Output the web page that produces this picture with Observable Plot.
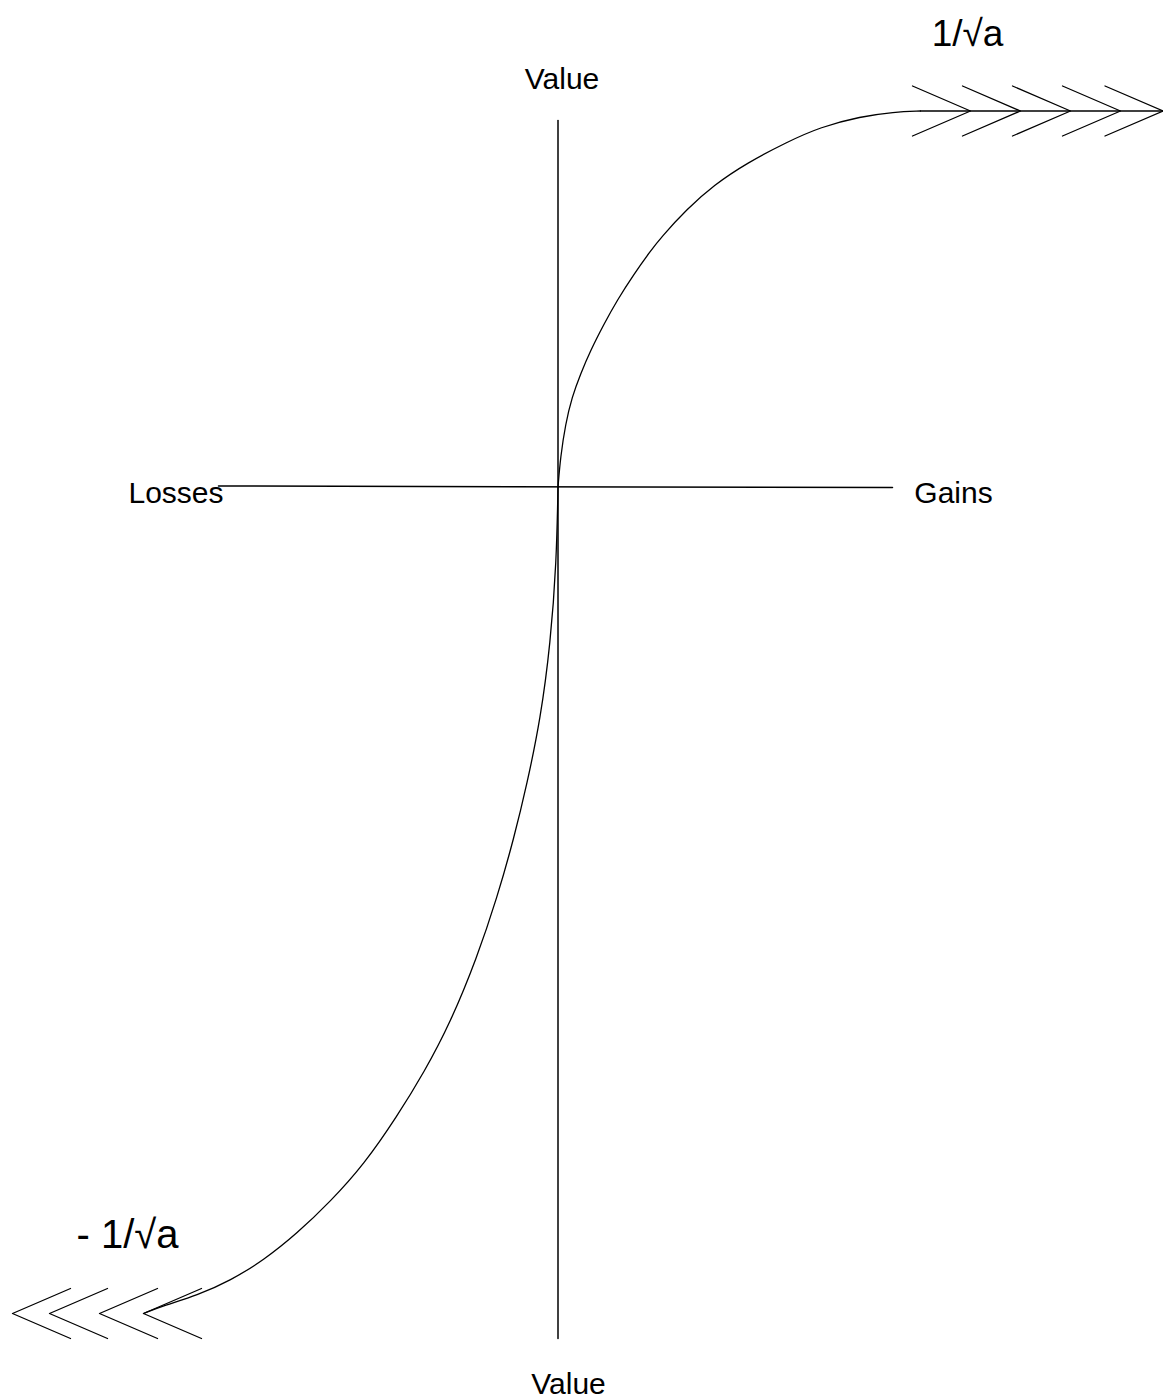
<!DOCTYPE html>
<html>
<head>
<meta charset="utf-8">
<script src="https://cdn.jsdelivr.net/npm/d3@7"></script>
<script src="https://cdn.jsdelivr.net/npm/@observablehq/plot@0.6"></script>
<style>
  html, body { margin: 0; padding: 0; background: #fff; }
  #chart svg { display: block; }
</style>
</head>
<body>
<div id="chart"></div>
<script>
// Abstract units: gains/losses on x, value on y, origin at (0,0)
const gainsX  = [0, 2.5, 7.5, 14, 22.5, 32.5, 46, 59, 76, 92.5, 102.5, 129, 156, 189, 229, 262.5, 302.5, 336, 362.5];
const gainsV  = [0, 30, 63, 90, 113, 136.5, 163, 186.5, 213, 236, 249, 278, 302, 324, 345, 360, 370.5, 375, 376];
const lossesX = [0, -1.5, -7.5, -17.5, -31, -44, -61, -81, -107.5, -134, -161, -194, -227.5, -261, -294, -327.5, -361, -394, -414.5];
const lossesV = [0, -74.5, -156, -232, -297, -351, -411, -470.5, -535.5, -585.5, -629.5, -677.5, -714.5, -746.5, -773, -793.5, -808.5, -818.5, -826.5];

const upperAsymptote = 376;     // 1/√a
const lowerAsymptote = -826.5;  // - 1/√a
const gainsEnd = 605;
const lossesAxisEnd = -339.5;
const gainsAxisEnd = 334.5;
const valueTop = 366.5;
const valueBottom = -851.5;

const upperChevronTips = [412.5, 462.5, 512.5, 562.5, 605];
const lowerChevronTips = [-545.5, -508.5, -458.5, -414.5];
const chevronLength = 58;
const chevronHalf = 25;

const labels = [
  {text: "Value",  x: 4,     y: 398.5,   size: 30},
  {text: "Value",  x: 10.5,  y: -906.5,  size: 30},
  {text: "Losses", x: -382,  y: -15.5,   size: 30},
  {text: "Gains",  x: 395.5, y: -15.5,   size: 30},
  {text: "1/√a",   x: 409.5, y: 441.5,   size: 37},
  {text: "- 1/√a", x: -430.5,y: -760.5,  size: 40}
];

const gains = gainsX.map((x, i) => ({x, v: gainsV[i]}));
const losses = lossesX.map((x, i) => ({x, v: lossesV[i]}));

const chevrons = [];
upperChevronTips.forEach((t, i) => {
  chevrons.push({id: "u" + i, x: t - chevronLength, v: upperAsymptote + chevronHalf});
  chevrons.push({id: "u" + i, x: t, v: upperAsymptote});
  chevrons.push({id: "u" + i, x: t - chevronLength, v: upperAsymptote - chevronHalf});
});
lowerChevronTips.forEach((t, i) => {
  chevrons.push({id: "l" + i, x: t + chevronLength, v: lowerAsymptote + chevronHalf});
  chevrons.push({id: "l" + i, x: t, v: lowerAsymptote});
  chevrons.push({id: "l" + i, x: t + chevronLength, v: lowerAsymptote - chevronHalf});
});

const sw = 1.3;
const plot = Plot.plot({
  width: 1163,
  height: 1398,
  margin: 0,
  x: {domain: [-557.5, 605.5], range: [0, 1163], axis: null},
  y: {domain: [-911.5, 486.5], range: [1398, 0], axis: null},
  style: {fontFamily: "'Liberation Sans', Arial, sans-serif", background: "#fff"},
  marks: [
    Plot.line([{x: 0, v: valueTop}, {x: 0, v: valueBottom}], {x: "x", y: "v", stroke: "#000", strokeWidth: 1.5}),
    Plot.line([{x: lossesAxisEnd, v: 1}, {x: gainsAxisEnd, v: -0.5}], {x: "x", y: "v", stroke: "#000", strokeWidth: 1.5}),
    Plot.line(gains, {x: "x", y: "v", curve: "basis", stroke: "#000", strokeWidth: sw}),
    Plot.line(losses, {x: "x", y: "v", curve: "basis", stroke: "#000", strokeWidth: sw}),
    Plot.line([{x: gainsX[gainsX.length - 1], v: upperAsymptote}, {x: gainsEnd, v: upperAsymptote}], {x: "x", y: "v", stroke: "#000", strokeWidth: sw}),
    Plot.line(chevrons, {x: "x", y: "v", z: "id", stroke: "#000", strokeWidth: sw}),
    Plot.text(labels, {x: "x", y: "y", text: "text", fontSize: d => d.size, lineAnchor: "bottom", textAnchor: "middle", fill: "#000"})
  ]
});
document.getElementById("chart").appendChild(plot);
</script>
</body>
</html>
